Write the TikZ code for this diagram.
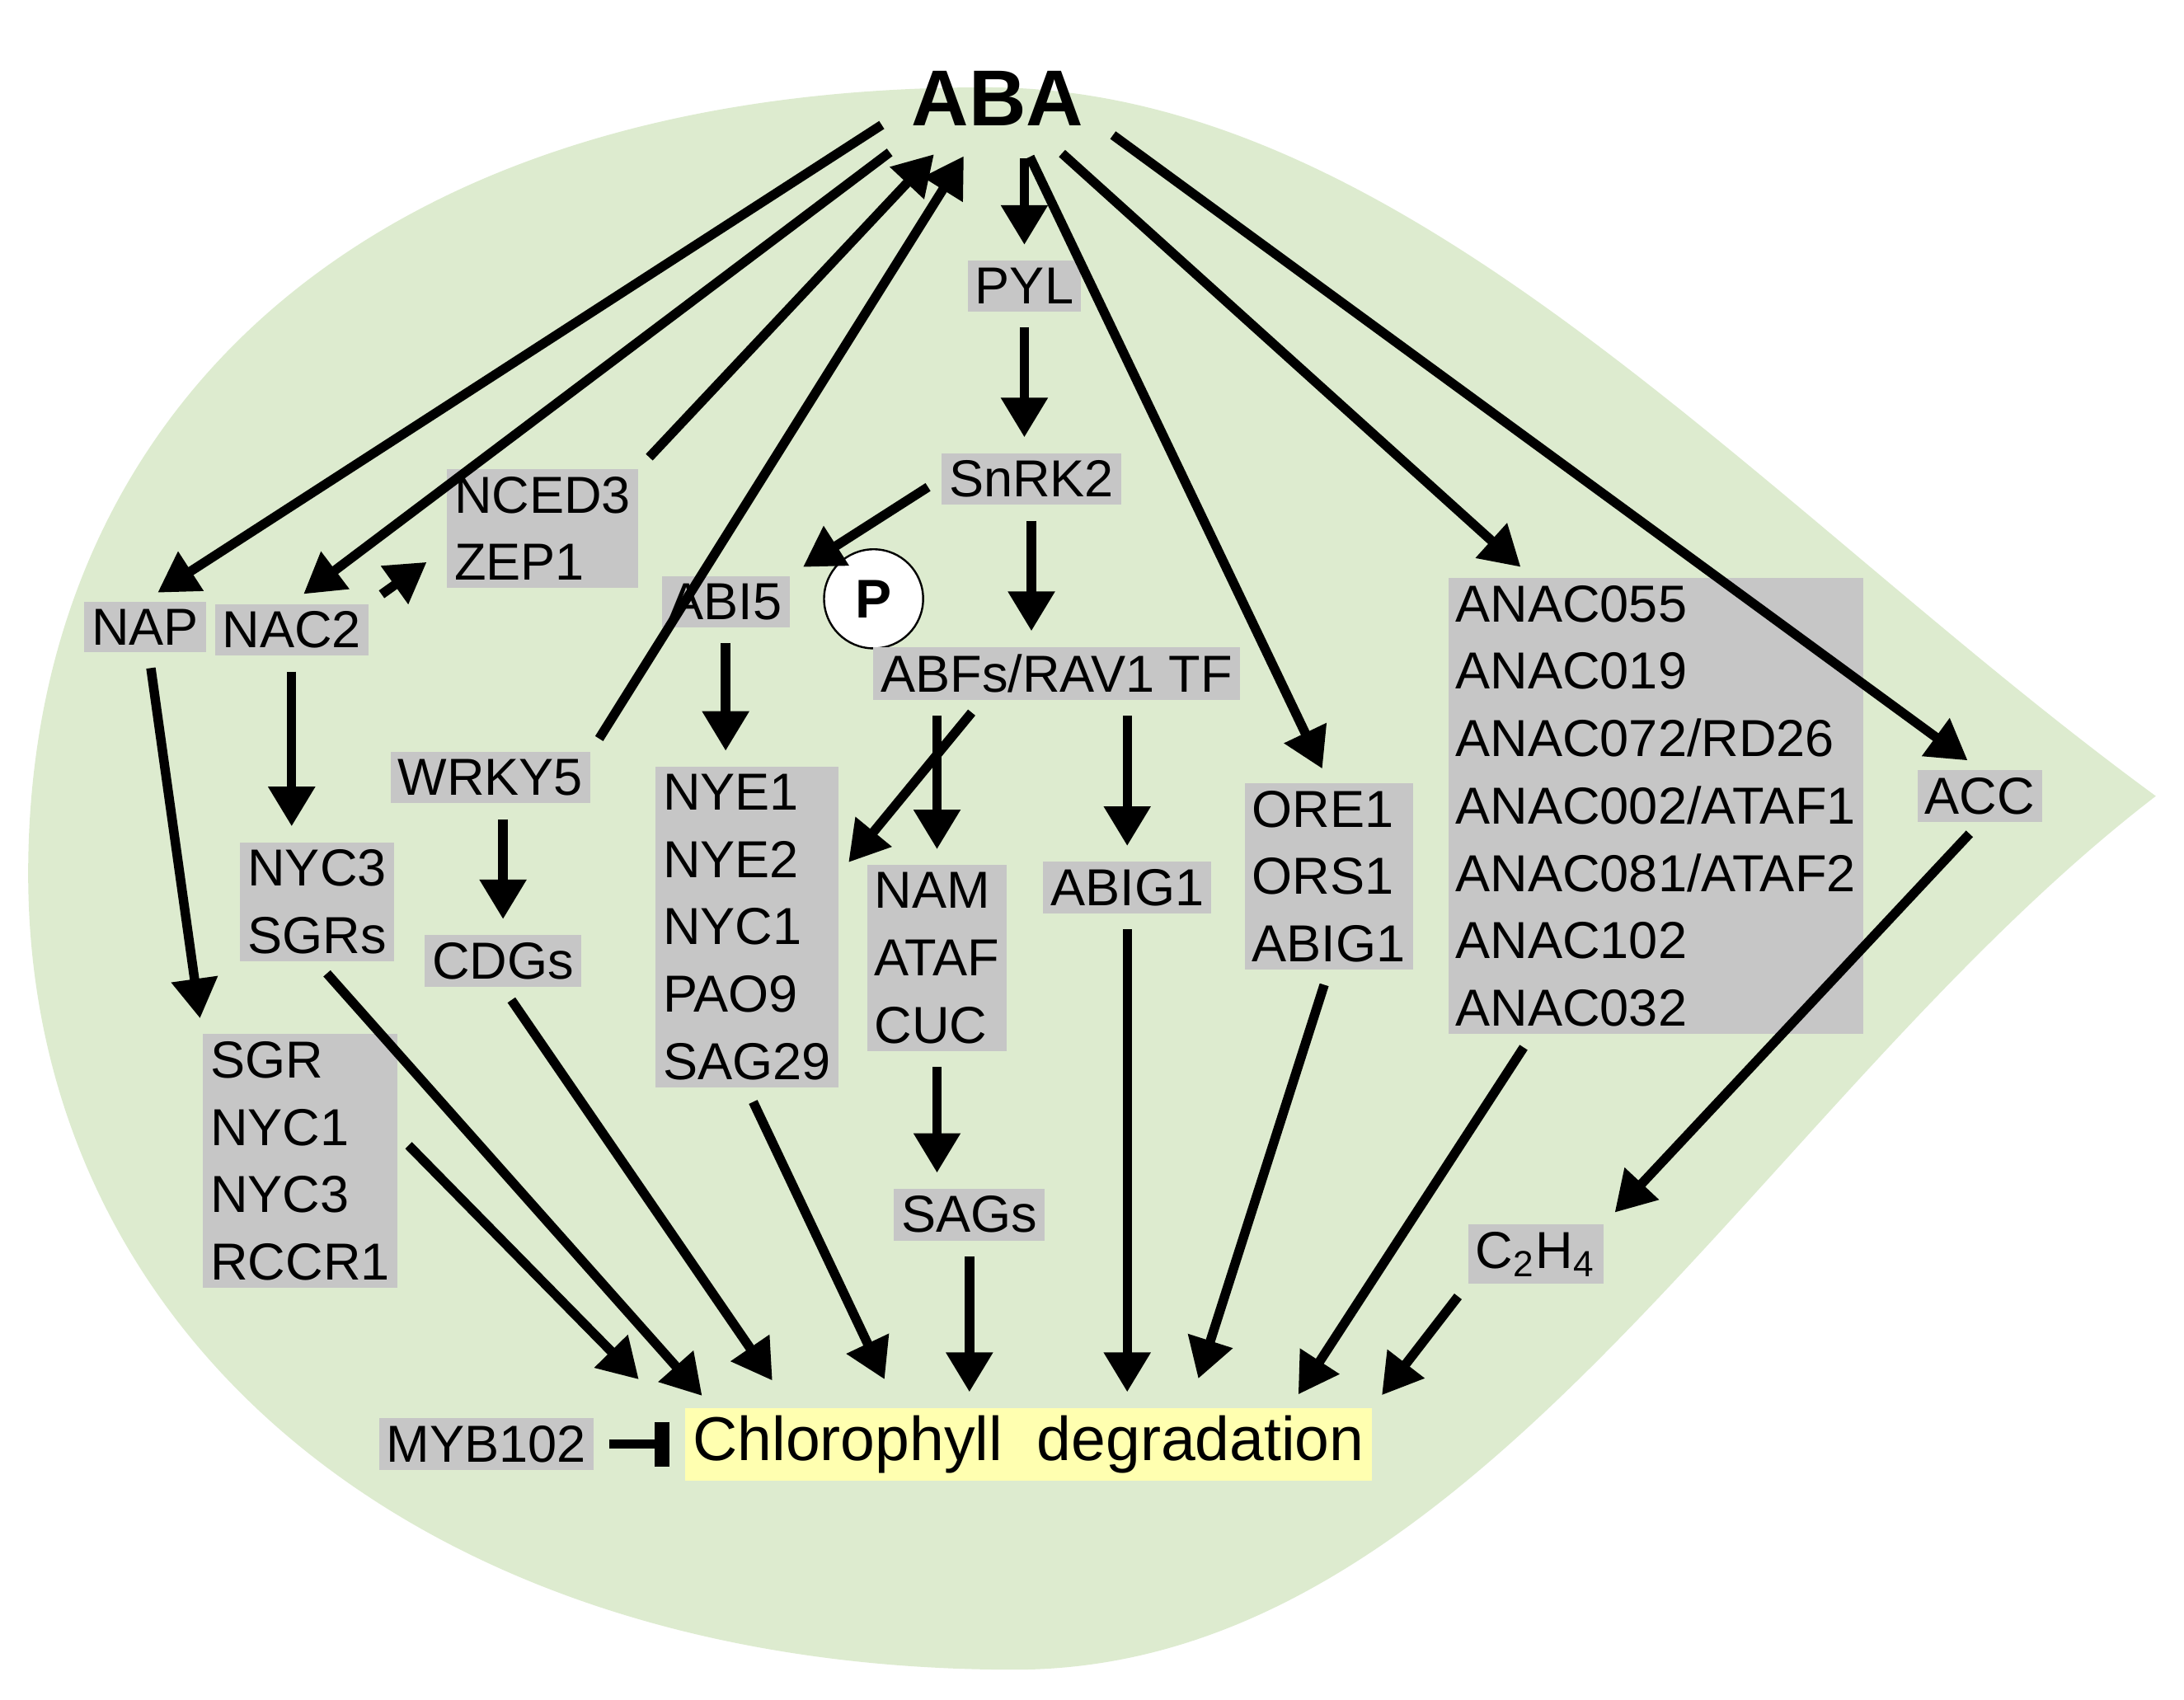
\documentclass[tikz,border=0pt]{standalone}
\usepackage{fontspec}
\setmainfont{Liberation Sans}
\usetikzlibrary{arrows.meta,calc}
\begin{document}
\begin{tikzpicture}[x=0.01cm,y=-0.01cm,
 g/.style={fill=gray!45,inner sep=1.5pt,font=\fontsize{10.5}{13.6}\selectfont,align=left},
 arr/.style={line width=1.9pt,-{Triangle[length=8pt,width=9pt]},shorten >=3pt,shorten <=3pt},
 inh/.style={line width=1.9pt,-{Bar[width=9pt,line width=3pt]},shorten <=3pt,shorten >=3pt}]
\useasboundingbox (0,0) rectangle (1550,1206);
\fill[fill={rgb,255:red,221;green,235;blue,207}] (1530,565) .. controls (1250,360) and (1000,62) .. (700,62)
 .. controls (250,62) and (20,300) .. (20,620) .. controls (20,950) and (300,1185) .. (720,1185)
 .. controls (1050,1185) and (1250,780) .. (1530,565);
\node[font=\fontsize{16}{18}\selectfont\bfseries] (aba) at (708,70) {ABA};
\node[g] (pyl) at (727,203) {PYL};
\node[g] (snrk) at (732,340) {SnRK2};
\node[g] (nced) at (385,375) {NCED3\\ZEP1};
\node[g] (nap) at (103,445) {NAP};
\node[g] (nac2) at (207,447) {NAC2};
\node[g] (abi5) at (515,427) {ABI5};
\node[draw,circle,fill=white,inner sep=0pt,minimum size=20pt,font=\fontsize{11}{12}\selectfont\bfseries] (p) at (620,425) {P};
\node[g] (abf) at (750,478) {ABFs/RAV1 TF};
\node[g] (wrky) at (348,552) {WRKY5};
\node[g] (nyc3) at (225,640) {NYC3\\SGRs};
\node[g] (cdg) at (357,682) {CDGs};
\node[g] (nye) at (530,658) {NYE1\\NYE2\\NYC1\\PAO9\\SAG29};
\node[g] (nam) at (665,680) {NAM\\ATAF\\CUC};
\node[g] (sags) at (688,862) {SAGs};
\node[g] (abig) at (800,630) {ABIG1};
\node[g] (ore) at (943,622) {ORE1\\ORS1\\ABIG1};
\node[g] (anac) at (1175,572) {ANAC055\\ANAC019\\ANAC072/RD26\\ANAC002/ATAF1\\ANAC081/ATAF2\\ANAC102\\ANAC032};
\node[g] (acc) at (1405,565) {ACC};
\node[g] (sgr) at (213,824) {SGR\\NYC1\\NYC3\\RCCR1};
\node[g] (c2h4) at (1090,890) {C\textsubscript{2}H\textsubscript{4}};
\node[g] (myb) at (345,1025) {MYB102};
\node[fill={rgb,255:red,255;green,255;blue,176},inner sep=1.5pt,font=\fontsize{12.5}{14}\selectfont] (chl) at (730,1025) {Chlorophyll\ \ degradation};
\draw[arr] (aba.190) -- (nap.north);
\draw[arr] (aba.205) -- (nac2.north);
\draw[arr] (nced.north east) -- (aba.220);
\draw[arr] (nac2.north east) -- ($(nced.south west)+(-5,-25)$);
\draw[arr] (wrky.north east) -- (aba.240);
\draw[arr] (aba.south-|pyl) -- (pyl.north);
\draw[arr] (pyl.south) -- (pyl.south|-snrk.north);
\draw[arr] (snrk.west) -- (abi5.north east);
\draw[arr] (snrk.south) -- (snrk.south|-abf.north);
\draw[arr] (aba.300) -- (ore.north);
\draw[arr] (aba.320) -- ($(anac.north west)+(60,0)$);
\draw[arr] (aba.345) -- (acc.north);
\draw[arr] (abi5) -- (abi5|-nye.north);
\draw[arr] (abf.200) -- (nye.30);
\draw[arr] (abf.south-|nam.north) -- (nam.north);
\draw[arr] (abf.south-|abig.north) -- (abig.north);
\draw[arr] (nac2) -- (nac2|-nyc3.north);
\draw[arr] (wrky.south-|cdg) -- (cdg.north);
\draw[arr] (nap) -- (sgr.north west);
\draw[arr] (nam.south) -- (nam.south|-sags.north);
\draw[arr] (acc.south) -- (c2h4.north east);
\draw[arr] (sgr.15) -- ($(chl.north west)+(-25,-12)$);
\draw[arr] (nyc3.south) -- ($(chl.north west)!0.04!(chl.north east)$);
\draw[arr] (cdg.south) -- ($(chl.north west)!0.14!(chl.north east)+(0,-10)$);
\draw[arr] (nye.south) -- ($(chl.north west)!0.30!(chl.north east)+(0,-10)$);
\draw[arr] (sags.south) -- (sags.south|-chl.north);
\draw[arr] (abig) -- (abig|-chl.north);
\draw[arr] (ore.south) -- ($(chl.north west)!0.74!(chl.north east)+(0,-10)$);
\draw[arr] (anac.south west) ++(60,0) coordinate (a1) -- ($(chl.north west)!0.88!(chl.north east)$);
\draw[arr] (c2h4.south west) -- (chl.north east);
\draw[inh] (myb) -- (chl);
\end{tikzpicture}
\end{document}
